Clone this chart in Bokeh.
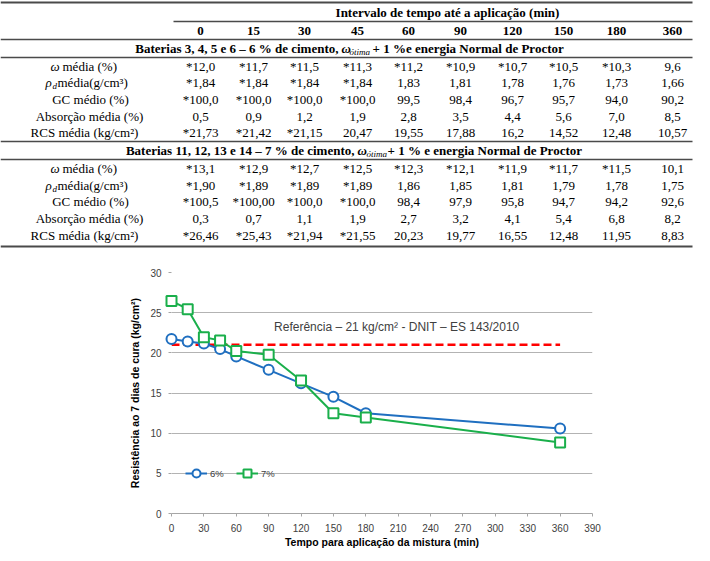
from bokeh.plotting import figure
from bokeh.models import ColumnDataSource, Range1d, Label, FixedTicker
from bokeh.core.properties import value
from bokeh.embed import file_html
from bokeh.resources import INLINE

# ---------------- data ----------------
times = [0, 15, 30, 45, 60, 90, 120, 150, 180, 360]
time_labels = ["0", "15", "30", "45", "60", "90", "120", "150", "180", "360"]

w6 = ["*12,0", "*11,7", "*11,5", "*11,3", "*11,2", "*10,9", "*10,7", "*10,5", "*10,3", "9,6"]
rho6 = ["*1,84", "*1,84", "*1,84", "*1,84", "1,83", "1,81", "1,78", "1,76", "1,73", "1,66"]
gc6 = ["*100,0", "*100,0", "*100,0", "*100,0", "99,5", "98,4", "96,7", "95,7", "94,0", "90,2"]
abs6 = ["0,5", "0,9", "1,2", "1,9", "2,8", "3,5", "4,4", "5,6", "7,0", "8,5"]
rcs6 = ["*21,73", "*21,42", "*21,15", "20,47", "19,55", "17,88", "16,2", "14,52", "12,48", "10,57"]

w7 = ["*13,1", "*12,9", "*12,7", "*12,5", "*12,3", "*12,1", "*11,9", "*11,7", "*11,5", "10,1"]
rho7 = ["*1,90", "*1,89", "*1,89", "*1,89", "1,86", "1,85", "1,81", "1,79", "1,78", "1,75"]
gc7 = ["*100,5", "*100,00", "*100,0", "*100,0", "98,4", "97,9", "95,8", "94,7", "94,2", "92,6"]
abs7 = ["0,3", "0,7", "1,1", "1,9", "2,7", "3,2", "4,1", "5,4", "6,8", "8,2"]
rcs7 = ["*26,46", "*25,43", "*21,94", "*21,55", "20,23", "19,77", "16,55", "12,48", "11,95", "8,83"]

rcs6_num = [21.73, 21.42, 21.15, 20.47, 19.55, 17.88, 16.2, 14.52, 12.48, 10.57]
rcs7_num = [26.46, 25.43, 21.94, 21.55, 20.23, 19.77, 16.55, 12.48, 11.95, 8.83]
ref_times = [0, 360]
ref_value = [21, 21]

header_title = "Intervalo de tempo até a aplicação (min)"
group1 = ["Baterias 3, 4, 5 e 6 – 6 % de cimento,", "ω", "ótima", "+ 1 %e energia Normal de Proctor"]
group2 = ["Baterias 11, 12, 13 e 14 – 7 % de cimento,", "ω", "ótima", "+ 1 % e energia Normal de Proctor"]
row_labels = ["média (%)", "média(g/cm³)", "GC médio (%)", "Absorção média (%)", "RCS média (kg/cm²)"]
ref_text = "Referência – 21 kg/cm² - DNIT – ES 143/2010"
x_title = "Tempo para aplicação da mistura (min)"
y_title = "Resistência ao 7 dias de cura (kg/cm²)"
series_names = ["6%", "7%"]

# ---------------- table ----------------
SERIF = value("Liberation Serif")
col_x = [200, 253, 304, 357, 408, 460, 512, 563, 616, 672]

t = figure(width=694, height=249, x_range=Range1d(0, 694), y_range=Range1d(249, 0),
           output_backend="svg", toolbar_location=None, min_border=0,
           x_axis_location=None, y_axis_location=None, outline_line_color=None)
t.grid.grid_line_color = None

rules = ColumnDataSource(dict(
    x0=[0, 173, 0, 0, 0, 0, 0],
    x1=[692] * 7,
    y=[2, 21, 39, 57, 141, 159, 246],
    w=[2, 1.3, 1.3, 1.3, 1.3, 1.3, 2],
))
t.segment(x0="x0", y0="y", x1="x1", y1="y", line_width="w", line_color="#4a4a4a", source=rules)


def txt(xs, ys, ss, size="13px", style="normal", align="center"):
    t.text(x=xs, y=ys, text=ss, text_font=SERIF, text_font_size=value(size),
           text_font_style=value(style), text_align=value(align),
           text_baseline=value("middle"), text_color="#000000")


txt([447], [12], [header_title], style="bold")
txt(col_x, [30] * 10, time_labels, style="bold")


def group(parts, y, x_end, x_w, x_sub, x_rest):
    txt([x_end], [y], [parts[0]], style="bold", align="right")
    txt([x_w], [y], [parts[1]], style="bold italic", align="left")
    txt([x_sub], [y + 3], [parts[2]], size="9px", style="italic", align="left")
    txt([x_rest], [y], [parts[3]], style="bold", align="left")


group(group1, 48, 338, 341, 349, 372)
group(group2, 150, 354, 357, 366, 387)


def block(rows_y, rows):
    txt([50], [rows_y[0]], ["ω"], style="italic", align="left")
    txt([62], [rows_y[0]], [row_labels[0]], align="left")
    txt([45], [rows_y[1]], ["ρ"], style="italic", align="left")
    txt([52], [rows_y[1] + 3], ["d"], size="9px", style="italic", align="left")
    txt([57], [rows_y[1]], [row_labels[1]], align="left")
    txt([90, 89, 84], rows_y[2:], row_labels[2:])
    for yy, vals in zip(rows_y, rows):
        txt(col_x, [yy] * 10, vals)


block([66, 82, 99, 116, 132], [w6, rho6, gc6, abs6, rcs6])
block([168, 185, 201, 218, 235], [w7, rho7, gc7, abs7, rcs7])

# ---------------- chart ----------------
SANS = "Liberation Sans"
BLUE = "#1f6fc0"
GREEN = "#1aaf4b"

p = figure(width=694, height=304, x_range=Range1d(0, 390), y_range=Range1d(0, 30),
           output_backend="svg", toolbar_location=None,
           min_border_left=171, min_border_right=102, min_border_top=23, min_border_bottom=40,
           outline_line_color=None)
p.xgrid.grid_line_color = None
p.ygrid.grid_line_color = "#b3b3b3"
p.ygrid.ticker = FixedTicker(ticks=list(range(0, 31, 5)))
p.xaxis.ticker = FixedTicker(ticks=list(range(0, 391, 30)))
p.yaxis.ticker = FixedTicker(ticks=list(range(0, 31, 5)))

for ax in (p.xaxis, p.yaxis):
    ax.major_label_text_font = SANS
    ax.major_label_text_font_size = "10px"
    ax.major_label_text_color = "#404040"
    ax.axis_label_text_font = SANS
    ax.axis_label_text_font_size = "10.5px"
    ax.axis_label_text_font_style = "bold"
    ax.axis_label_text_color = "#000000"
    ax.major_tick_in = 0
    ax.major_tick_out = 3
    ax.major_tick_line_color = "#a6a6a6"
    ax.minor_tick_line_color = None

p.xaxis.axis_line_color = "#a6a6a6"
p.yaxis.axis_line_color = None
p.xaxis.axis_label = x_title
p.yaxis.axis_label = y_title
p.xaxis.major_label_standoff = 7
p.xaxis.axis_label_standoff = 1
p.yaxis.major_label_standoff = 7
p.yaxis.axis_label_standoff = 6

p.line(ref_times, ref_value, line_color="#ff0000", line_width=2.5, line_dash="8 4")

p.line(times, rcs6_num, line_color=BLUE, line_width=2, legend_label=series_names[0],
       level="overlay")
p.scatter(times, rcs6_num, marker="circle", size=10, line_color=BLUE, line_width=2,
          fill_color="white", legend_label=series_names[0], level="overlay")
p.line(times, rcs7_num, line_color=GREEN, line_width=2, legend_label=series_names[1],
       level="overlay")
p.scatter(times, rcs7_num, marker="square", size=10, line_color=GREEN, line_width=2,
          fill_color="white", legend_label=series_names[1], level="overlay")

p.add_layout(Label(x=95, y=23.2, text=ref_text, text_font=SANS, text_font_size="12px",
                   text_baseline="middle", text_color="#404040"))

lg = p.legend[0]
lg.location = (14, 30)
lg.orientation = "horizontal"
lg.border_line_color = None
lg.background_fill_alpha = 0
lg.padding = 0
lg.margin = 0
lg.spacing = 6
lg.glyph_width = 22
lg.glyph_height = 20
lg.label_standoff = 3
lg.label_text_font = SANS
lg.label_text_font_size = "9.5px"
lg.label_text_color = "#404040"

# two independent roots so that Bokeh does not align the plot frames
open("out.html", "w").write(file_html([t, p], INLINE))
